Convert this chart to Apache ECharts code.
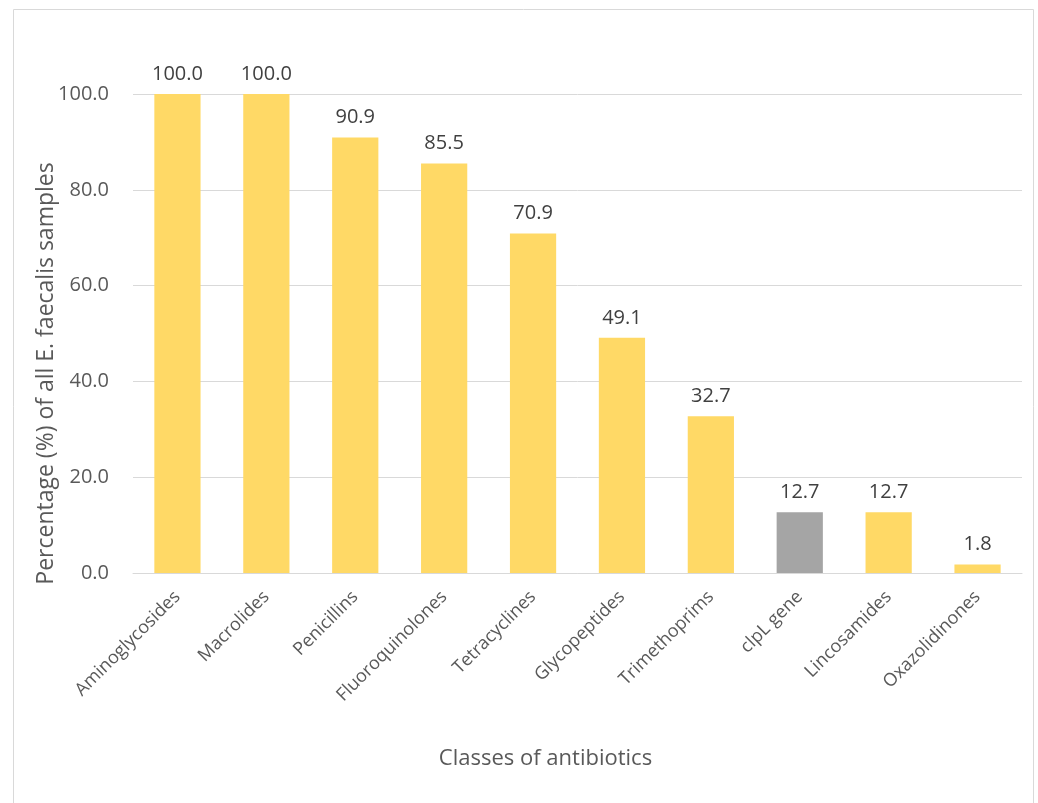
<!DOCTYPE html>
<html>
<head>
<meta charset="utf-8">
<script src="https://cdn.jsdelivr.net/npm/echarts@6/dist/echarts.min.js"></script>
<style>
  html, body { margin: 0; padding: 0; background: #fff; }
  #chart { width: 1038px; height: 803px; }
</style>
</head>
<body>
<div id="chart"></div>
<script>
var categories = ['Aminoglycosides', 'Macrolides', 'Penicillins', 'Fluoroquinolones', 'Tetracyclines',
  'Glycopeptides', 'Trimethoprims', 'clpL gene', 'Lincosamides', 'Oxazolidinones'];
var percentages = [100.0, 100.0, 90.9, 85.5, 70.9, 49.1, 32.7, 12.7, 12.7, 1.8];
var geneCategory = 'clpL gene';

var font = '"Open Sans", "Noto Sans", sans-serif';
var chart = echarts.init(document.getElementById('chart'));

chart.setOption({
  animation: false,
  graphic: [{
    type: 'rect',
    shape: { x: 13.5, y: 9.5, width: 1020, height: 810 },
    style: { fill: 'none', stroke: '#d9d9d9', lineWidth: 1 }
  }],
  grid: { left: 133, right: 16, top: 94, bottom: 230 },
  xAxis: {
    type: 'category',
    data: categories,
    name: 'Classes of antibiotics',
    nameLocation: 'middle',
    nameGap: 175,
    nameTextStyle: { fontFamily: font, fontSize: 22, color: '#595959', padding: [0, 64, 0, 0] },
    axisLine: { lineStyle: { color: '#d9d9d9' } },
    axisTick: { show: false },
    axisLabel: { rotate: 45, interval: 0, margin: 21, fontFamily: font, fontSize: 18, color: '#595959' }
  },
  yAxis: {
    type: 'value',
    min: 0, max: 100, interval: 20,
    name: 'Percentage (%) of all E. faecalis samples',
    nameLocation: 'middle',
    nameGap: 75,
    nameMoveOverlap: false,
    nameTextStyle: { fontFamily: font, fontSize: 23, color: '#595959', padding: [0, 80, 0, 0] },
    axisLine: { show: false },
    axisTick: { show: false },
    splitLine: { lineStyle: { color: '#d9d9d9' } },
    axisLabel: {
      margin: 24, fontFamily: font, fontSize: 20, color: '#595959',
      formatter: function (v) { return v.toFixed(1); }
    }
  },
  series: [{
    type: 'bar',
    barWidth: '52%',
    data: percentages.map(function (v, i) {
      return {
        value: v,
        itemStyle: { color: categories[i] === geneCategory ? '#a5a5a5' : '#ffd966' }
      };
    }),
    label: {
      show: true, position: 'top', distance: 10,
      fontFamily: font, fontSize: 20, color: '#404040',
      formatter: function (p) { return p.value.toFixed(1); }
    }
  }]
});
</script>
</body>
</html>
